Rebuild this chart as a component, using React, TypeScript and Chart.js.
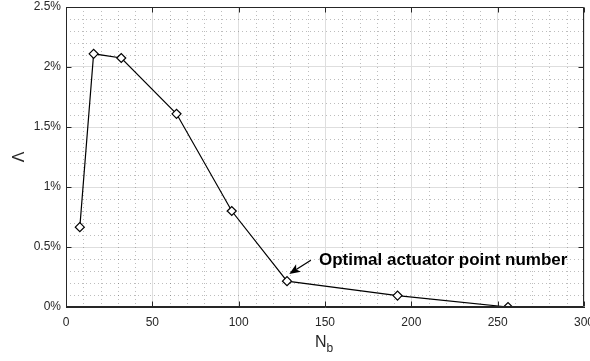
import React, { useEffect, useRef } from 'react';
import { Chart, registerables } from 'chart.js';

Chart.register(...registerables);

// ---- data ----
const nbValues = [8, 16, 32, 64, 96, 128, 192, 256];
const lambdaValues = [0.665, 2.11, 2.075, 1.61, 0.8, 0.215, 0.095, 0.0];
const xTickValues = [0, 50, 100, 150, 200, 250, 300];
const yTickValues = [0, 0.5, 1, 1.5, 2, 2.5];
const xMinorStep = 10;
const yMinorStep = 0.1;
const annotationText = 'Optimal actuator point number';
const arrowTip = [129.3, 0.275];
const arrowTail = [141.8, 0.39];
const textAnchor = [146.5, 0.39];
const xTitle = 'N';
const xTitleSub = 'b';
const yTitle = 'Λ';

const AXIS_COLOR = '#262626';
const FONT = '"Liberation Sans", Arial, Helvetica, sans-serif';

const overlayPlugin = {
  id: 'overlay',
  beforeDatasetsDraw(chart: any) {
    const { ctx, chartArea: a, scales } = chart;
    const x = scales.x;
    const y = scales.y;
    ctx.save();
    ctx.strokeStyle = 'rgba(38,38,38,0.3)';
    ctx.lineWidth = 1;
    ctx.setLineDash([1, 3]);
    const xMin = xTickValues[0];
    const xMax = xTickValues[xTickValues.length - 1];
    const nx = Math.round((xMax - xMin) / xMinorStep);
    for (let i = 1; i < nx; i++) {
      if (i % 5 === 0) continue;
      const px = Math.round(x.getPixelForValue(xMin + i * xMinorStep)) + 0.5;
      ctx.beginPath();
      ctx.moveTo(px, a.top);
      ctx.lineTo(px, a.bottom);
      ctx.stroke();
    }
    const yMin = yTickValues[0];
    const yMax = yTickValues[yTickValues.length - 1];
    const ny = Math.round((yMax - yMin) / yMinorStep);
    for (let i = 1; i < ny; i++) {
      if (i % 5 === 0) continue;
      const py = Math.round(y.getPixelForValue(yMin + i * yMinorStep)) + 0.5;
      ctx.beginPath();
      ctx.moveTo(a.left, py);
      ctx.lineTo(a.right, py);
      ctx.stroke();
    }
    ctx.restore();
  },
  afterDatasetsDraw(chart: any) {
    const { ctx, chartArea: a, scales } = chart;
    const x = scales.x;
    const y = scales.y;
    ctx.save();
    // box
    ctx.strokeStyle = AXIS_COLOR;
    ctx.lineWidth = 1;
    ctx.setLineDash([]);
    const L = Math.round(a.left) + 0.5;
    const R = Math.round(a.right) - 0.5;
    const T = Math.round(a.top) + 0.5;
    const B = Math.round(a.bottom) - 0.5;
    ctx.beginPath();
    ctx.moveTo(L, T);
    ctx.lineTo(R, T);
    ctx.lineTo(R, B);
    ctx.moveTo(L, T);
    ctx.lineTo(L, B);
    ctx.lineTo(R, B);
    ctx.stroke();
    // inner ticks
    const tl = 5;
    ctx.beginPath();
    for (const v of xTickValues) {
      const px = Math.round(x.getPixelForValue(v)) + 0.5;
      ctx.moveTo(px, T);
      ctx.lineTo(px, T + tl);
      ctx.moveTo(px, B);
      ctx.lineTo(px, B - tl);
    }
    for (const v of yTickValues) {
      const py = Math.round(y.getPixelForValue(v)) + 0.5;
      ctx.moveTo(L, py);
      ctx.lineTo(L + tl, py);
      ctx.moveTo(R, py);
      ctx.lineTo(R - tl, py);
    }
    ctx.stroke();

    // annotation arrow
    const tx = x.getPixelForValue(arrowTip[0]);
    const ty = y.getPixelForValue(arrowTip[1]);
    const sx = x.getPixelForValue(arrowTail[0]);
    const sy = y.getPixelForValue(arrowTail[1]);
    const ang = Math.atan2(ty - sy, tx - sx);
    const hl = 11;
    const hw = 4.5;
    const inset = 0.75;
    ctx.strokeStyle = '#000';
    ctx.lineWidth = 1.3;
    ctx.beginPath();
    ctx.moveTo(sx, sy);
    ctx.lineTo(tx - Math.cos(ang) * hl * inset, ty - Math.sin(ang) * hl * inset);
    ctx.stroke();
    ctx.fillStyle = '#000';
    ctx.beginPath();
    ctx.moveTo(tx, ty);
    const bx = tx - Math.cos(ang) * hl;
    const by = ty - Math.sin(ang) * hl;
    ctx.lineTo(bx + Math.sin(ang) * hw, by - Math.cos(ang) * hw);
    ctx.lineTo(tx - Math.cos(ang) * hl * inset, ty - Math.sin(ang) * hl * inset);
    ctx.lineTo(bx - Math.sin(ang) * hw, by + Math.cos(ang) * hw);
    ctx.closePath();
    ctx.fill();

    // annotation text
    ctx.font = `bold 17px ${FONT}`;
    ctx.textAlign = 'left';
    ctx.textBaseline = 'middle';
    ctx.fillText(annotationText, x.getPixelForValue(textAnchor[0]), y.getPixelForValue(textAnchor[1]));

    // x title with subscript
    ctx.fillStyle = AXIS_COLOR;
    ctx.font = `16px ${FONT}`;
    ctx.textBaseline = 'alphabetic';
    const nW = ctx.measureText(xTitle).width;
    ctx.font = `12px ${FONT}`;
    const bW = ctx.measureText(xTitleSub).width;
    const cx = (a.left + a.right) / 2;
    const startX = cx - (nW + bW) / 2 - 1;
    ctx.font = `16px ${FONT}`;
    ctx.fillText(xTitle, startX, 346.5);
    ctx.font = `12px ${FONT}`;
    ctx.fillText(xTitleSub, startX + nW, 351.5);

    // y title
    ctx.save();
    ctx.translate(19.5, (a.top + a.bottom) / 2);
    ctx.rotate(-Math.PI / 2);
    ctx.font = `16px ${FONT}`;
    ctx.textAlign = 'center';
    ctx.textBaseline = 'middle';
    ctx.fillText(yTitle, 0, 0);
    ctx.restore();

    ctx.restore();
  },
};

export default function App() {
  const ref = useRef<HTMLCanvasElement | null>(null);
  useEffect(() => {
    if (!ref.current) return;
    const chart = new Chart(ref.current, {
      type: 'scatter',
      data: {
        datasets: [
          {
            data: nbValues.map((v, i) => ({ x: v, y: lambdaValues[i] })),
            showLine: true,
            borderColor: '#000',
            borderWidth: 1.2,
            pointStyle: 'rectRot',
            pointRadius: 4.5,
            pointBackgroundColor: '#fff',
            pointBorderColor: '#000',
            pointBorderWidth: 1.2,
          },
        ],
      },
      options: {
        responsive: false,
        animation: false,
        devicePixelRatio: 1,
        layout: { padding: { left: 0, top: 7, right: 6, bottom: 0 } },
        plugins: { legend: { display: false }, tooltip: { enabled: false } },
        scales: {
          x: {
            type: 'linear',
            min: xTickValues[0],
            max: xTickValues[xTickValues.length - 1],
            afterBuildTicks: (s: any) => {
              s.ticks = xTickValues.map((v) => ({ value: v }));
            },
            afterFit: (s: any) => {
              s.height = 54;
              s.paddingLeft = 0;
              s.paddingRight = 0;
            },
            ticks: {
              color: AXIS_COLOR,
              font: { family: FONT, size: 12 },
              padding: 8,
              maxRotation: 0,
              autoSkip: false,
            },
            grid: { color: '#dedede', drawTicks: false, lineWidth: 1 },
            border: { color: AXIS_COLOR, width: 1 },
          },
          y: {
            type: 'linear',
            min: yTickValues[0],
            max: yTickValues[yTickValues.length - 1],
            afterBuildTicks: (s: any) => {
              s.ticks = yTickValues.map((v) => ({ value: v }));
            },
            afterFit: (s: any) => {
              s.width = 66;
              s.paddingTop = 0;
              s.paddingBottom = 0;
            },
            ticks: {
              color: AXIS_COLOR,
              font: { family: FONT, size: 12 },
              padding: 5,
              autoSkip: false,
              callback: (v: any) => `${v}%`,
            },
            grid: { color: '#dedede', drawTicks: false, lineWidth: 1 },
            border: { color: AXIS_COLOR, width: 1 },
          },
        },
      },
      plugins: [overlayPlugin],
    } as any);
    return () => chart.destroy();
  }, []);
  return (
    <div style={{ position: 'fixed', left: 0, top: 0, width: 590, height: 361, background: '#fff' }}>
      <canvas ref={ref} width={590} height={361} style={{ display: 'block' }} />
    </div>
  );
}
